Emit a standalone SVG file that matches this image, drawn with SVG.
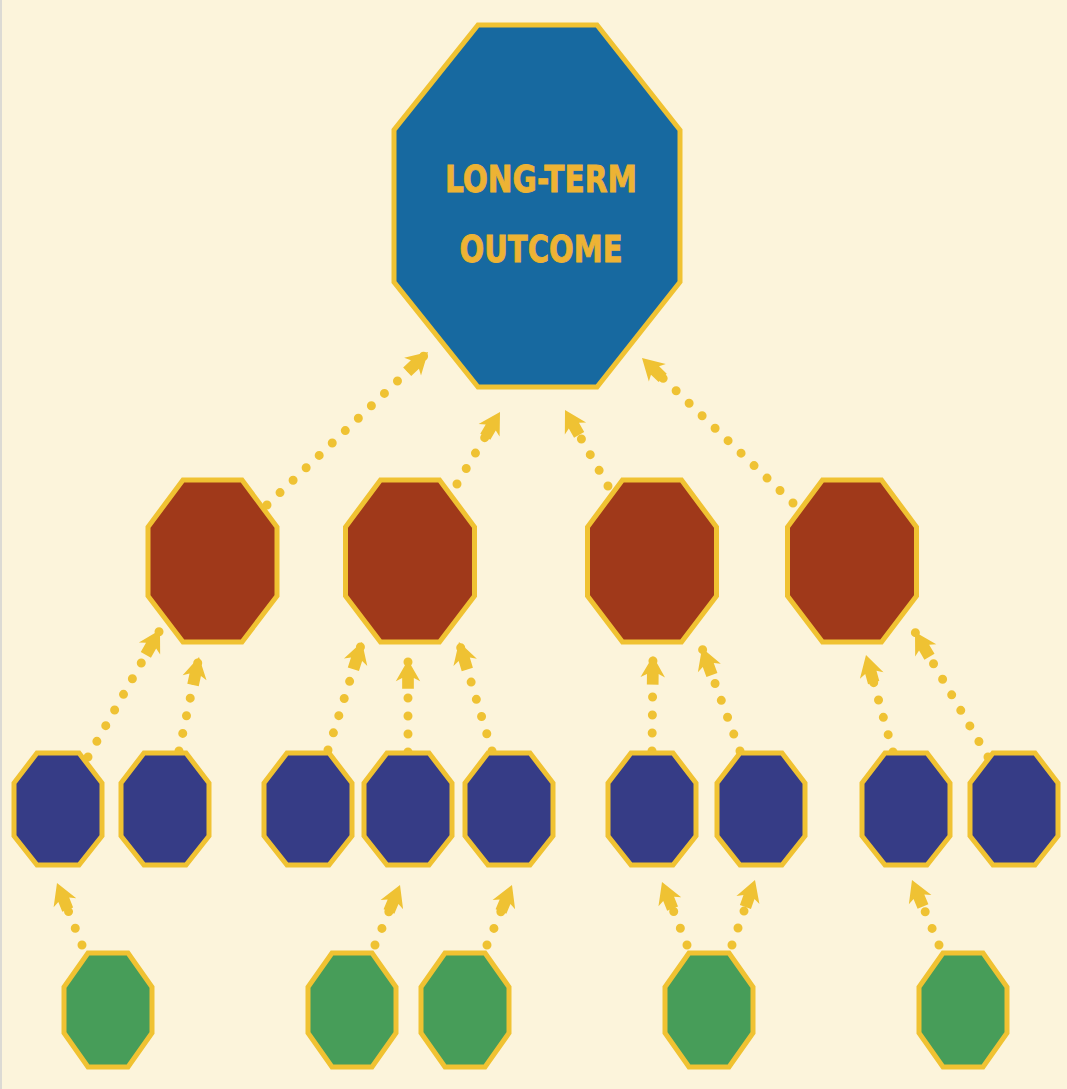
<svg xmlns="http://www.w3.org/2000/svg" xmlns:xlink="http://www.w3.org/1999/xlink" width="1067" height="1089" viewBox="0 0 1067 1089">
<style>
.bg{fill:#FCF4DB}
.oct{stroke:#F0C232;stroke-linejoin:miter}
.top{fill:#1769A0;stroke-width:5}
.red{fill:#A0391A;stroke-width:5}
.blue{fill:#363C86;stroke-width:5}
.green{fill:#479D59;stroke-width:5}
.lbl{font-family:"DejaVu Sans Condensed","Liberation Sans",Arial,sans-serif;font-weight:bold;font-size:38px;fill:#EDB334;stroke:#EDB334;stroke-width:0.8;text-anchor:middle}
.arr{fill:none;stroke:#EFC233;stroke-width:9;stroke-linecap:round;stroke-dasharray:0 18;marker-end:url(#head)}
</style>
<defs>
<marker id="head" markerUnits="userSpaceOnUse" markerWidth="34" markerHeight="30" viewBox="-30 -14 32 28" refX="0" refY="0" orient="auto">
<path d="M0,0 L-20,-11.5 L-17,-5.5 L-27,-5.5 L-27,5.5 L-17,5.5 L-20,11.5 Z" fill="#EFC233"/>
</marker>
<polygon id="redOct" points="-29.5,-81 29.5,-81 64.5,-34 64.5,35 29.5,81 -29.5,81 -64.5,35 -64.5,-34"/>
<polygon id="blueOct" points="-21,-56 21,-56 44,-26 44,27 21,56 -21,56 -44,27 -44,-26"/>
<polygon id="greenOct" points="-20,-57 20,-57 44,-23 44,23 20,57 -20,57 -44,23 -44,-23"/>
</defs>
<rect class="bg" x="0" y="0" width="1067" height="1089"/>
<line x1="1" y1="0" x2="1" y2="1089" stroke="#DCDAD4" stroke-width="2"/>

<g id="connectors">
<path class="arr" d="M267,505 L428,352"/>
<path class="arr" d="M457,484 L500,412"/>
<path class="arr" d="M608,486 L565,410"/>
<path class="arr" d="M793,503 L642,358"/>
<path class="arr" d="M88,757 L160,630"/>
<path class="arr" d="M179,751 L199,657"/>
<path class="arr" d="M328,750 L362,642"/>
<path class="arr" d="M408,752 L408,660"/>
<path class="arr" d="M492,751 L459,642"/>
<path class="arr" d="M652,751 L653,656"/>
<path class="arr" d="M740,751 L702,648"/>
<path class="arr" d="M893,752 L866,655"/>
<path class="arr" d="M988,757 L915,632"/>
<path class="arr" d="M82,945 L57,883"/>
<path class="arr" d="M375,945 L400,885"/>
<path class="arr" d="M487,945 L512,885"/>
<path class="arr" d="M687,945 L662,882"/>
<path class="arr" d="M732,945 L755,880"/>
<path class="arr" d="M939,945 L912,880"/>
</g>

<g id="long-term-outcome">
<polygon class="oct top" points="478,25 597,25 680,130 680,282 597,387 478,387 394,282 394,130"/>
<text class="lbl" x="541" y="192" textLength="192" lengthAdjust="spacingAndGlyphs">LONG-TERM</text>
<text class="lbl" x="541" y="262" textLength="163" lengthAdjust="spacingAndGlyphs">OUTCOME</text>
</g>

<g id="red-1"><use href="#redOct" class="oct red" x="212.5" y="561"/></g>
<g id="red-2"><use href="#redOct" class="oct red" x="410" y="561"/></g>
<g id="red-3"><use href="#redOct" class="oct red" x="652" y="561"/></g>
<g id="red-4"><use href="#redOct" class="oct red" x="852" y="561"/></g>

<g id="blue-1"><use href="#blueOct" class="oct blue" x="58" y="809"/></g>
<g id="blue-2"><use href="#blueOct" class="oct blue" x="165" y="809"/></g>
<g id="blue-3"><use href="#blueOct" class="oct blue" x="308" y="809"/></g>
<g id="blue-4"><use href="#blueOct" class="oct blue" x="408" y="809"/></g>
<g id="blue-5"><use href="#blueOct" class="oct blue" x="509" y="809"/></g>
<g id="blue-6"><use href="#blueOct" class="oct blue" x="652" y="809"/></g>
<g id="blue-7"><use href="#blueOct" class="oct blue" x="761" y="809"/></g>
<g id="blue-8"><use href="#blueOct" class="oct blue" x="906" y="809"/></g>
<g id="blue-9"><use href="#blueOct" class="oct blue" x="1014" y="809"/></g>

<g id="green-1"><use href="#greenOct" class="oct green" x="108" y="1010"/></g>
<g id="green-2"><use href="#greenOct" class="oct green" x="352" y="1010"/></g>
<g id="green-3"><use href="#greenOct" class="oct green" x="465" y="1010"/></g>
<g id="green-4"><use href="#greenOct" class="oct green" x="709" y="1010"/></g>
<g id="green-5"><use href="#greenOct" class="oct green" x="963" y="1010"/></g>
</svg>
